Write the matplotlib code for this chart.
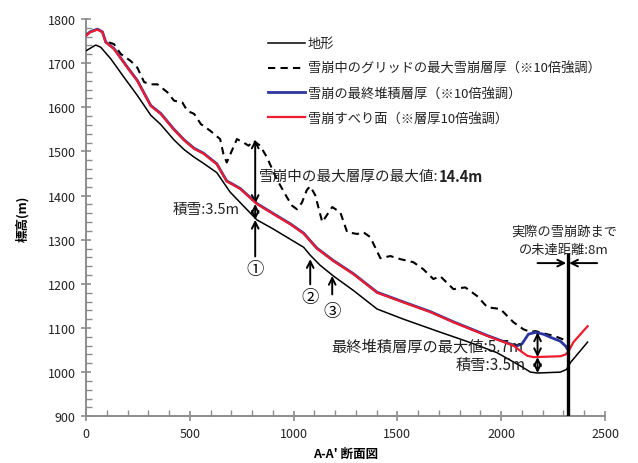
import matplotlib
matplotlib.use("Agg")
import matplotlib.pyplot as plt
from matplotlib.ticker import MultipleLocator

plt.rcParams['font.family'] = ['Noto Sans CJK JP', 'DejaVu Sans']

# ---- data (distance along A-A' [m], elevation [m]) ----
terrain_x = [0, 47, 71, 119, 183, 247, 312, 360, 424, 473, 521, 566, 630, 694, 743,
             823, 903, 984, 1048, 1080, 1128, 1191, 1288, 1402, 1529, 1691, 1851, 1980,
             2093, 2141, 2175, 2285, 2314, 2334, 2416]
terrain_y = [1728, 1741, 1736, 1710, 1668, 1627, 1582, 1561, 1526, 1504, 1487, 1473, 1452, 1408, 1384,
             1345, 1324, 1301, 1283, 1265, 1242, 1218, 1185, 1143, 1120, 1093, 1067, 1044,
             1014, 1000, 998, 1000, 1006, 1022, 1068]

slip_x = [0, 20, 55, 79, 95, 135, 199, 247, 312, 360, 424, 473, 521, 566, 630, 678, 702, 743,
          823, 903, 984, 1048, 1112, 1191, 1288, 1402, 1529, 1659, 1770, 1933, 2059, 2093,
          2126, 2155, 2285, 2310, 2324, 2348, 2416]
slip_y = [1762, 1770, 1776, 1770, 1747, 1732, 1690, 1660, 1603, 1585, 1549, 1525, 1506, 1495, 1471, 1432, 1426, 1415,
          1381, 1358, 1335, 1314, 1280, 1252, 1222, 1180, 1158, 1136, 1113, 1082, 1060, 1048,
          1037, 1034, 1036, 1040, 1047, 1068, 1104]

deposit_x = [0, 20, 55, 79, 95, 135, 199, 247, 312, 360, 424, 473, 521, 566, 630, 678, 702, 743,
             823, 903, 984, 1048, 1112, 1191, 1288, 1402, 1529, 1659, 1770, 1933, 2059, 2078,
             2100, 2131, 2165, 2203, 2237, 2285, 2310, 2319]
deposit_y = [1763, 1771, 1777, 1771, 1748, 1733, 1691, 1661, 1604, 1586, 1550, 1526, 1507, 1496, 1472, 1433, 1427, 1416,
             1382, 1359, 1336, 1315, 1281, 1253, 1223, 1181, 1159, 1137, 1114, 1083, 1061, 1060,
             1064, 1086, 1090, 1086, 1079, 1070, 1059, 1052]

maxdepth_x = [111, 135, 167, 215, 247, 280, 312, 344, 392, 424, 464, 488, 521, 553, 598, 646,
              662, 678, 702, 727, 759, 783, 807, 839, 871, 919, 968, 993, 1016, 1040, 1064,
              1080, 1104, 1138, 1186, 1225, 1258, 1307, 1336, 1369, 1418, 1466, 1514, 1577,
              1625, 1673, 1707, 1770, 1827, 1885, 1933, 1996, 2059, 2107, 2141, 2165, 2203,
              2261, 2310]
maxdepth_y = [1747, 1743, 1721, 1705, 1690, 1657, 1652, 1652, 1634, 1615, 1611, 1592, 1585, 1562, 1547, 1528,
              1494, 1475, 1501, 1528, 1520, 1513, 1524, 1513, 1487, 1437, 1396, 1377, 1369, 1384, 1413,
              1421, 1401, 1340, 1374, 1362, 1317, 1313, 1317, 1306, 1258, 1263, 1256, 1249,
              1233, 1211, 1217, 1188, 1192, 1172, 1147, 1143, 1113, 1097, 1091, 1093, 1088,
              1081, 1072]

legend_labels = ["地形",
                 "雪崩中のグリッドの最大雪崩層厚（※10倍強調）",
                 "雪崩の最終堆積層厚（※10倍強調）",
                 "雪崩すべり面（※層厚10倍強調）"]

xticks = [0, 500, 1000, 1500, 2000, 2500]
yticks = [900, 1000, 1100, 1200, 1300, 1400, 1500, 1600, 1700, 1800]

# ---- figure ----
fig = plt.figure(figsize=(6.38, 4.64), dpi=100)
ax = fig.add_axes([0.1348, 0.1007, 0.8135, 0.8562])

ax.plot(terrain_x, terrain_y, color='black', lw=1.1, label=legend_labels[0], zorder=3)
ax.plot(maxdepth_x, maxdepth_y, color='black', lw=1.5, ls=(0, (3.5, 2.5)), label=legend_labels[1], zorder=3)
ax.plot(deposit_x, deposit_y, color='#2b36a0', lw=2.0, label=legend_labels[2], zorder=3)
ax.plot(slip_x, slip_y, color='#ee1c2e', lw=1.6, label=legend_labels[3], zorder=4)

ax.set_xlim(0, 2500)
ax.set_ylim(900, 1800)
ax.set_xticks(xticks)
ax.set_yticks(yticks)
ax.xaxis.set_minor_locator(MultipleLocator(100))
ax.yaxis.set_minor_locator(MultipleLocator(20))
for s in ['top', 'right']:
    ax.spines[s].set_visible(False)
for s in ['left', 'bottom']:
    ax.spines[s].set_color('#8c8c8c')
    ax.spines[s].set_linewidth(1.4)
ax.tick_params(which='major', direction='inout', length=7, width=1.2, color='#8c8c8c',
               labelsize=9, labelcolor='#222222', pad=4)
ax.tick_params(which='minor', direction='in', length=4, width=1.0, color='#8c8c8c')

ax.set_ylabel("標高(m)", fontsize=9, fontweight='bold', labelpad=13)
ax.set_xlabel("A-A' 断面図", fontsize=9, fontweight='bold', labelpad=5)

leg = ax.legend(loc='upper left', bbox_to_anchor=(0.327, 0.984), frameon=False, fontsize=9.5,
                handlelength=2.8, handletextpad=0.25, labelspacing=0.9)
for t in leg.get_texts():
    t.set_color('#222222')

arrow_kw = dict(color='black', lw=1.4, shrinkA=0, shrinkB=0, mutation_scale=12)

# annotations near x ~ 815
ax.annotate('', xy=(815, 1527), xytext=(815, 1381), arrowprops=dict(arrowstyle='<->', **arrow_kw))
ax.annotate('', xy=(815, 1381), xytext=(815, 1345), arrowprops=dict(arrowstyle='<->', **arrow_kw))
ax.annotate('', xy=(815, 1345), xytext=(815, 1262), arrowprops=dict(arrowstyle='->', **arrow_kw))
ax.annotate('', xy=(1080, 1256), xytext=(1080, 1199), arrowprops=dict(arrowstyle='->', **arrow_kw))
ax.annotate('', xy=(1186, 1218), xytext=(1186, 1176), arrowprops=dict(arrowstyle='->', **arrow_kw))
ax.text(815, 1233, "①", fontsize=12.5, ha='center', va='center')
ax.text(1080, 1170, "②", fontsize=12.5, ha='center', va='center')
ax.text(1186, 1138, "③", fontsize=12.5, ha='center', va='center')

t1 = ax.text(835, 1444, "雪崩中の最大層厚の最大値:", fontsize=10.5, ha='left', va='center', color='#222222')
ax.annotate("14.4m", xy=(1, 0.5), xycoords=t1, va='center', ha='left', fontsize=10.5,
            fontweight='bold', color='#222222')
ax.text(742, 1369, "積雪:3.5m", fontsize=10.5, ha='right', va='center', color='#222222')

# annotations near the run-out
ax.annotate('', xy=(2175, 1090), xytext=(2175, 1034), arrowprops=dict(arrowstyle='<->', **arrow_kw))
ax.annotate('', xy=(2175, 1034), xytext=(2175, 998), arrowprops=dict(arrowstyle='<->', **arrow_kw))
ax.text(2105, 1059, "最終堆積層厚の最大値:5.7m", fontsize=11, ha='right', va='center', color='#222222')
ax.text(2120, 1018, "積雪:3.5m", fontsize=11, ha='right', va='center', color='#222222')

ax.plot([2320, 2320], [900, 1265], color='black', lw=2.4, zorder=5)
ax.annotate('', xy=(2313, 1247), xytext=(2175, 1247), arrowprops=dict(arrowstyle='->', **arrow_kw))
ax.annotate('', xy=(2327, 1247), xytext=(2462, 1247), arrowprops=dict(arrowstyle='->', **arrow_kw),
            annotation_clip=False)
ax.text(2305, 1319, "実際の雪崩跡まで", fontsize=9.5, ha='center', va='center', color='#222222')
ax.text(2300, 1279, "の未達距離:8m", fontsize=9.5, ha='center', va='center', color='#222222')

fig.savefig("out.png", dpi=100)
